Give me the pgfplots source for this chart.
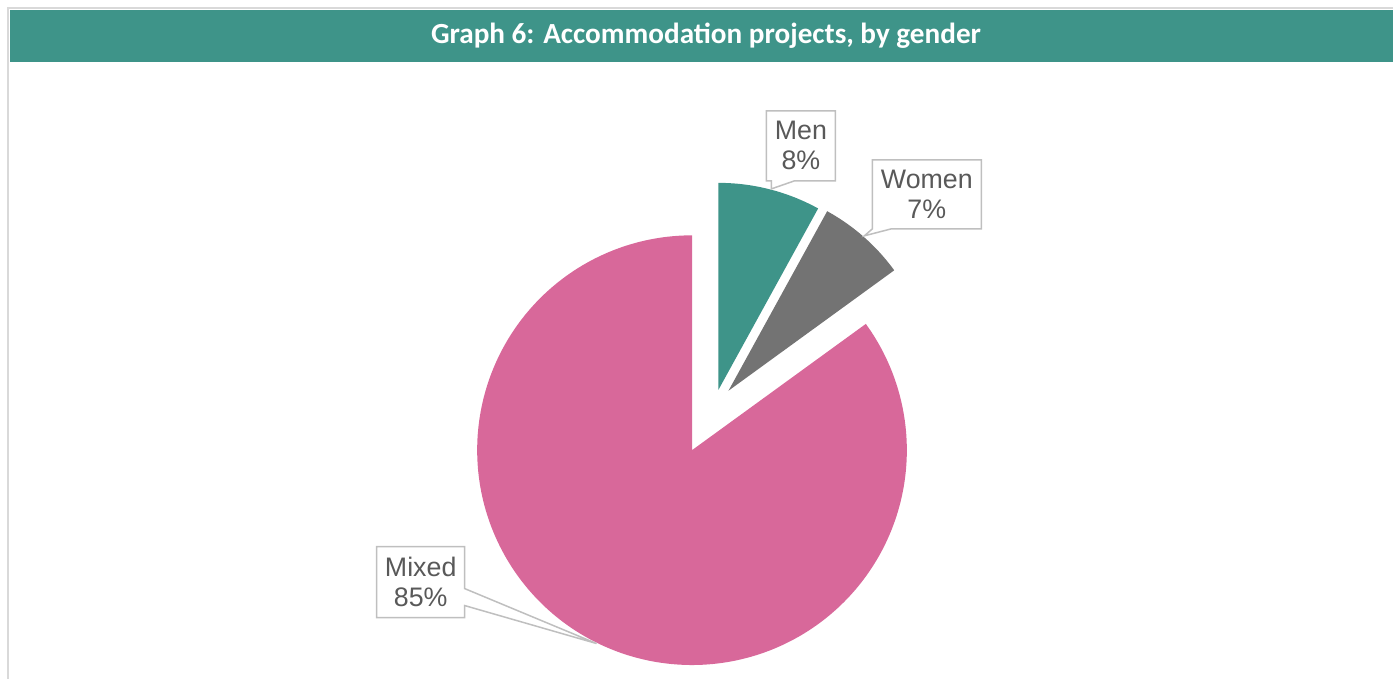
\documentclass[border=0pt]{standalone}
\usepackage{fontspec}
\setmainfont{Liberation Sans}
\newfontfamily\titlefont{Carlito}
\usepackage{pgfplots}
\pgfplotsset{compat=1.18}
\definecolor{teal1}{HTML}{3E9489}
\definecolor{pink1}{HTML}{D8689A}
\definecolor{gray1}{HTML}{737373}
\definecolor{txt}{HTML}{595959}
\definecolor{boxc}{HTML}{BFBFBF}
\definecolor{bord}{HTML}{D9D9D9}
% shares (%)
\def\vMen{8}
\def\vWomen{7}
\def\vMixed{85}
\begin{document}
\begin{tikzpicture}
\pgfmathsetmacro{\aA}{90}
\pgfmathsetmacro{\aB}{90-3.6*\vMen}
\pgfmathsetmacro{\aC}{\aB-3.6*\vWomen}
\pgfmathsetmacro{\aD}{\aC-3.6*\vMixed}
\begin{axis}[
  width=697pt, height=339.5pt, scale only axis,
  xmin=0, xmax=1394, ymin=0, ymax=679,
  hide axis, clip=false]
\path (0,0) rectangle (1394,679);
% frame
\draw[bord, line width=1pt] (8.5,0) -- (8.5,670.5) -- (1394,670.5);
\fill[teal1] (10,669) rectangle (1394,616.5);
\node[text=white, font=\titlefont\bfseries\fontsize{14.6}{17}\selectfont] at (706.5,643) {Graph 6: Accommodation projects, by gender};
% slices
\addplot[fill=pink1, draw=none, domain=\aD:\aC, samples=240, variable=\t]
  ({692.5+215*cos(\t)},{228.5+215*sin(\t)}) -- (692.5,228.5) -- cycle;
\addplot[fill=teal1, draw=none, domain=\aB:\aA, samples=40, variable=\t]
  ({719+207*cos(\t)},{289+207*sin(\t)}) -- (719,289) -- cycle;
\addplot[fill=gray1, draw=none, domain=\aC:\aB, samples=40, variable=\t]
  ({729+205*cos(\t)},{288+205*sin(\t)}) -- (729,288) -- cycle;
% callouts
\draw[boxc, fill=white, line width=0.75pt] (767,568)--(836,568)--(836,498)--(795,498)--(772,490)--(772,498)--(767,498)--cycle;
\node[text=txt, align=center, font=\fontsize{13.4}{15}\selectfont] at (801.5,533) {Men\\8\%};
\draw[boxc, fill=white, line width=0.75pt] (873,519)--(982,519)--(982,450)--(892,450)--(865,443)--(873,450)--cycle;
\node[text=txt, align=center, font=\fontsize{13.4}{15}\selectfont] at (927.5,484.5) {Women\\7\%};
\draw[boxc, fill=white, line width=0.75pt] (377,132)--(465,132)--(465,90)--(597,35)--(465,73)--(465,61)--(377,61)--cycle;
\node[text=txt, align=center, font=\fontsize{13.4}{15}\selectfont] at (421,96.5) {Mixed\\85\%};
\end{axis}
\end{tikzpicture}
\end{document}
